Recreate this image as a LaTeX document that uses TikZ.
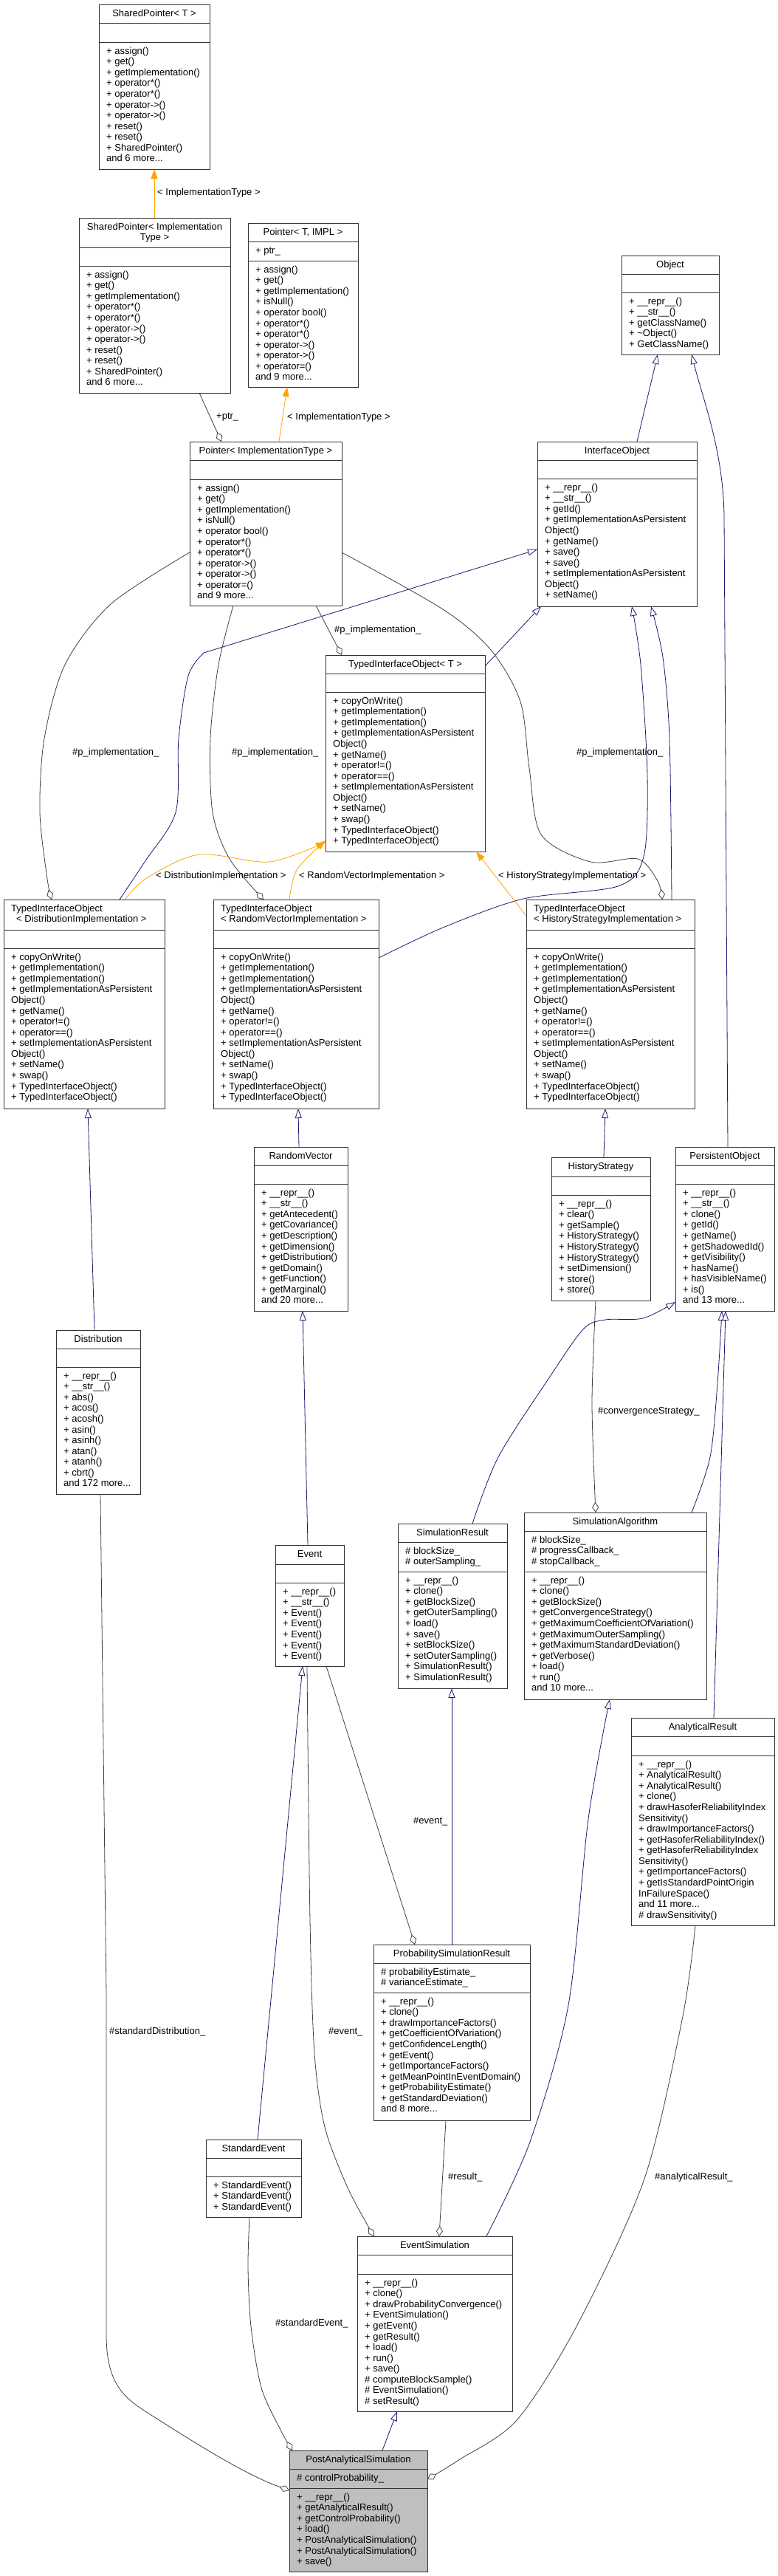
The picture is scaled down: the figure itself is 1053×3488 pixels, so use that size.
\documentclass[tikz,border=0pt]{standalone}
\usepackage{fontspec}
\setmainfont{Liberation Sans}
\usetikzlibrary{arrows.meta}
\definecolor{inhblue}{HTML}{191970}
\definecolor{tmplorange}{HTML}{FFA500}
\definecolor{usegrey}{HTML}{404040}
\definecolor{rootfill}{HTML}{BFBFBF}
\definecolor{boxline}{HTML}{333333}
\tikzset{
 box/.style={draw=boxline, line width=1pt, fill=white, inner sep=0pt, outer sep=0pt, rectangle},
 sepline/.style={draw=boxline, line width=1pt},
 txt/.style={anchor=north west, align=left, inner sep=0pt, font=\fontsize{13}{14.57}\selectfont},
 ttlc/.style={anchor=north, align=center, inner sep=0pt, font=\fontsize{13}{14.57}\selectfont, xshift={(#1)*0.5pt}},
 ttll/.style={anchor=north west, align=left, inner sep=0pt, font=\fontsize{13}{14.57}\selectfont, xshift=10pt},
 inh/.style={draw=inhblue, line width=0.8pt, -{Triangle[length=13pt,width=9pt,fill=white]}},
 tmpl/.style={draw=tmplorange, line width=0.8pt, -{Triangle[length=13pt,width=9pt]}},
 use/.style={draw=usegrey, line width=0.8pt, -{Diamond[length=14pt,width=9pt,fill=white]}},
 lbl/.style={anchor=west, inner sep=0pt, font=\fontsize{13}{14.57}\selectfont},
}
% #1 name, #2 xl, #3 xr, #4 yt, #5 yh, #6 ya, #7 yb, #8 c/l, #9 title ; then {attrs}{methods}
\newcommand\cls[9]{%
  \node[box, minimum width={(#3-#2)*1pt}, minimum height={(#7-#4)*1pt}] (#1) at ({(#2+#3)/2},{(#4+#7)/2}) {};
  \draw[sepline] (#2,#5) -- (#3,#5) (#2,#6) -- (#3,#6);
  \node[ttl#8={#3-#2}] (#1-t) at (#2,{#4+6}) {\rule{0pt}{10pt}#9};
  \def\cname{#1}\def\cxl{#2}\def\cyh{#5}\def\cya{#6}%
  \clsmore}
\newcommand\clsmore[2]{%
  \node[txt] (\cname-a) at ({\cxl+10},{\cyh+6}) {\rule{0pt}{10pt}#1};
  \node[txt] (\cname-m) at ({\cxl+10},{\cya+6}) {\rule{0pt}{10pt}#2};
}
\newcommand\spm{+ assign()\\+ get()\\+ getImplementation()\\+ operator*()\\+ operator*()\\+ operator->()\\+ operator->()\\+ reset()\\+ reset()\\+ SharedPointer()\\and 6 more...}
\newcommand\ptm{+ assign()\\+ get()\\+ getImplementation()\\+ isNull()\\+ operator bool()\\+ operator*()\\+ operator*()\\+ operator->()\\+ operator->()\\+ operator=()\\and 9 more...}
\newcommand\tiom{+ copyOnWrite()\\+ getImplementation()\\+ getImplementation()\\+ getImplementationAsPersistent\\Object()\\+ getName()\\+ operator!=()\\+ operator==()\\+ setImplementationAsPersistent\\Object()\\+ setName()\\+ swap()\\+ TypedInterfaceObject()\\+ TypedInterfaceObject()}
\begin{document}
\begin{tikzpicture}[x=1pt,y=-1pt]
\fill[white] (0,0) rectangle (1053,3488);
\useasboundingbox (0,0) rectangle (1053,3488);

% ---------- classes ----------
\cls{sp}{134}{284}{6}{31}{57}{229}{c}{SharedPointer< T >}{}{\spm}
\cls{spi}{107}{312}{295}{335}{360}{532}{c}{SharedPointer< Implementation\\Type >}{}{\spm}
\cls{pt}{336}{485}{302}{327}{353}{524}{c}{Pointer< T, IMPL >}{+ ptr\_}{\ptm}
\cls{pti}{257}{463}{598}{623}{649}{820}{c}{Pointer< ImplementationType >}{}{\ptm}
\cls{obj}{842}{974}{346}{371}{396}{480}{c}{Object}{}{+ \_\_repr\_\_()\\+ \_\_str\_\_()\\+ getClassName()\\+ \textasciitilde Object()\\+ GetClassName()}
\cls{io}{728}{944}{598}{623}{648}{821}{c}{InterfaceObject}{}{+ \_\_repr\_\_()\\+ \_\_str\_\_()\\+ getId()\\+ getImplementationAsPersistent\\Object()\\+ getName()\\+ save()\\+ save()\\+ setImplementationAsPersistent\\Object()\\+ setName()}
\cls{tioT}{441}{657}{887}{912}{937}{1153}{c}{TypedInterfaceObject< T >}{}{\tiom}
\cls{tioD}{5}{223}{1218}{1259}{1284}{1501}{l}{TypedInterfaceObject\\\hspace*{7pt}< DistributionImplementation >}{}{\tiom}
\cls{tioR}{289}{513}{1218}{1259}{1284}{1501}{l}{TypedInterfaceObject\\< RandomVectorImplementation >}{}{\tiom}
\cls{tioH}{713}{941}{1218}{1259}{1284}{1501}{l}{TypedInterfaceObject\\< HistoryStrategyImplementation >}{}{\tiom}
\cls{rv}{344}{471}{1553}{1578}{1603}{1775}{c}{RandomVector}{}{+ \_\_repr\_\_()\\+ \_\_str\_\_()\\+ getAntecedent()\\+ getCovariance()\\+ getDescription()\\+ getDimension()\\+ getDistribution()\\+ getDomain()\\+ getFunction()\\+ getMarginal()\\and 20 more...}
\cls{hs}{747}{881}{1567}{1593}{1618}{1761}{c}{HistoryStrategy}{}{+ \_\_repr\_\_()\\+ clear()\\+ getSample()\\+ HistoryStrategy()\\+ HistoryStrategy()\\+ HistoryStrategy()\\+ setDimension()\\+ store()\\+ store()}
\cls{po}{915}{1049}{1553}{1578}{1603}{1775}{c}{PersistentObject}{}{+ \_\_repr\_\_()\\+ \_\_str\_\_()\\+ clone()\\+ getId()\\+ getName()\\+ getShadowedId()\\+ getVisibility()\\+ hasName()\\+ hasVisibleName()\\+ is()\\and 13 more...}
\cls{dist}{76}{190}{1801}{1826}{1851}{2023}{c}{Distribution}{}{+ \_\_repr\_\_()\\+ \_\_str\_\_()\\+ abs()\\+ acos()\\+ acosh()\\+ asin()\\+ asinh()\\+ atan()\\+ atanh()\\+ cbrt()\\and 172 more...}
\cls{ev}{373}{466}{2092}{2118}{2143}{2256}{c}{Event}{}{+ \_\_repr\_\_()\\+ \_\_str\_\_()\\+ Event()\\+ Event()\\+ Event()\\+ Event()\\+ Event()}
\cls{sr}{539}{687}{2063}{2088}{2128}{2286}{c}{SimulationResult}{\# blockSize\_\\\# outerSampling\_}{+ \_\_repr\_\_()\\+ clone()\\+ getBlockSize()\\+ getOuterSampling()\\+ load()\\+ save()\\+ setBlockSize()\\+ setOuterSampling()\\+ SimulationResult()\\+ SimulationResult()}
\cls{sa}{710}{957}{2048}{2073}{2128}{2301}{c}{SimulationAlgorithm}{\# blockSize\_\\\# progressCallback\_\\\# stopCallback\_}{+ \_\_repr\_\_()\\+ clone()\\+ getBlockSize()\\+ getConvergenceStrategy()\\+ getMaximumCoefficientOfVariation()\\+ getMaximumOuterSampling()\\+ getMaximumStandardDeviation()\\+ getVerbose()\\+ load()\\+ run()\\and 10 more...}
\cls{ar}{855}{1049}{2326}{2351}{2377}{2607}{c}{AnalyticalResult}{}{+ \_\_repr\_\_()\\+ AnalyticalResult()\\+ AnalyticalResult()\\+ clone()\\+ drawHasoferReliabilityIndex\\Sensitivity()\\+ drawImportanceFactors()\\+ getHasoferReliabilityIndex()\\+ getHasoferReliabilityIndex\\Sensitivity()\\+ getImportanceFactors()\\+ getIsStandardPointOrigin\\InFailureSpace()\\and 11 more...\\\# drawSensitivity()}
\cls{psr}{506}{718}{2633}{2658}{2698}{2871}{c}{ProbabilitySimulationResult}{\# probabilityEstimate\_\\\# varianceEstimate\_}{+ \_\_repr\_\_()\\+ clone()\\+ drawImportanceFactors()\\+ getCoefficientOfVariation()\\+ getConfidenceLength()\\+ getEvent()\\+ getImportanceFactors()\\+ getMeanPointInEventDomain()\\+ getProbabilityEstimate()\\+ getStandardDeviation()\\and 8 more...}
\cls{se}{279}{408}{2897}{2922}{2947}{3002}{c}{StandardEvent}{}{+ StandardEvent()\\+ StandardEvent()\\+ StandardEvent()}
\cls{es}{484}{694}{3028}{3053}{3079}{3265}{c}{EventSimulation}{}{+ \_\_repr\_\_()\\+ clone()\\+ drawProbabilityConvergence()\\+ EventSimulation()\\+ getEvent()\\+ getResult()\\+ load()\\+ run()\\+ save()\\\# computeBlockSample()\\\# EventSimulation()\\\# setResult()}
\begin{scope}[box/.append style={fill=rootfill}]
\cls{pas}{392}{579}{3318}{3343}{3369}{3482}{c}{PostAnalyticalSimulation}{\# controlProbability\_}{+ \_\_repr\_\_()\\+ getAnalyticalResult()\\+ getControlProbability()\\+ load()\\+ PostAnalyticalSimulation()\\+ PostAnalyticalSimulation()\\+ save()}
\end{scope}

% ---------- connectors ----------
\draw[tmpl] (209,0 |- spi.north) -- (209,0 |- sp.south);
\draw[tmpl] (378,0 |- pti.north) -- (389,0 |- pt.south);
\draw[use] (270,0 |- spi.south) -- (300,0 |- pti.north);
\draw[inh] (863,0 |- io.north) -- (891,0 |- obj.south);
\draw[inh] (986,0 |- po.north) -- (981,700) .. controls (980,610) and (952,540) .. (937,0 |- obj.south);
\draw[inh] (tioT.east |- 0,902) -- (733,0 |- io.south);
\draw[inh] plot[smooth] coordinates {(162,0 |- tioD.north) (196,1167) (238,1100) (242,1000) (255,915) (276,884)} -- (io.west |- 0,744);
\draw[inh] plot[smooth] coordinates {(tioR.east |- 0,1297) (600,1256) (709,1217) (837,1200) (872,1160) (877,1050) (868,900) (856,0 |- io.south)};
\draw[inh] plot[smooth] coordinates {(910,0 |- tioH.north) (907,1000) (898,890) (882,0 |- io.south)};
\draw[tmpl] plot[smooth] coordinates {(169,0 |- tioD.north) (200,1188) (270,1157) (365,1167) (tioT.west |- 0,1140)};
\draw[tmpl] plot[smooth] coordinates {(392,0 |- tioR.north) (402,1178) (tioT.west |- 0,1138)};
\draw[tmpl] (tioH.west |- 0,1240) -- (645,0 |- tioT.south);
\draw[use] plot[smooth] coordinates {(pti.west |- 0,748) (150,818) (88,900) (60,1000) (54,1100) (64,1190) (70,0 |- tioD.north)};
\draw[use] plot[smooth] coordinates {(316,0 |- pti.south) (296,900) (285,1000) (288,1100) (311,1163) (357,0 |- tioR.north)};
\draw[use] (428,0 |- pti.south) -- (463,0 |- tioT.north);
\draw[use] plot[smooth] coordinates {(pti.east |- 0,748) (600,825) (665,880) (705,950) (717,1040) (733,1130) (800,1167) (864,1163) (891,1193) (897,0 |- tioH.north)};
\draw[inh] (128,0 |- dist.north) -- (119,0 |- tioD.south);
\draw[inh] (405,0 |- rv.north) -- (404,0 |- tioR.south);
\draw[inh] (818,0 |- hs.north) -- (820,0 |- tioH.south);
\draw[inh] (417,0 |- ev.north) -- (410,0 |- rv.south);
\draw[inh] plot[smooth] coordinates {(640,0 |- sr.north) (675,1973) (743,1867) (790,1800) (820,1787) (871,1785) (po.west |- 0,1763)};
\draw[inh] plot[smooth] coordinates {(937,0 |- sa.north) (962,1973) (972,1873) (978,0 |- po.south)};
\draw[inh] (967,0 |- ar.north) -- (983,0 |- po.south);
\draw[use] plot[smooth] coordinates {(807,0 |- hs.south) (802,1900) (807,0 |- sa.north)};
\draw[use] (136,0 |- dist.south) -- (144,2700) -- (144,3160) .. controls (144,3225) and (165,3245) .. (200,3267) .. controls (260,3305) and (330,3350) .. (pas.west |- 0,3372);
\draw[inh] (349,0 |- se.north) -- (410,0 |- ev.south);
\draw[use] plot[smooth] coordinates {(416,0 |- ev.south) (420,2600) (426,2780) (440,2880) (470,2960) (498,3013) (507,0 |- es.north)};
\draw[use] (442,0 |- ev.south) -- (562,0 |- psr.north);
\draw[inh] (612,0 |- psr.north) -- (612,0 |- sr.south);
\draw[inh] plot[smooth] coordinates {(659,0 |- es.north) (718,2900) (770,2715) (797,2463) (826,0 |- sa.south)};
\draw[use] (604,0 |- psr.south) -- (595,0 |- es.north);
\draw[use] plot[smooth] coordinates {(942,0 |- ar.south) (925,2730) (873,2950) (781,3150) (700,3277) (623,3330) (pas.east |- 0,3357)};
\draw[use] plot[smooth] coordinates {(338,0 |- se.south) (336,3070) (340,3150) (354,3233) (380,3290) (396,0 |- pas.north)};
\draw[inh] (518,0 |- pas.north) -- (538,0 |- es.south);

% ---------- labels ----------
\node[lbl] (l1) at (213,261) {< ImplementationType >};
\node[lbl] (l2) at (389,565) {< ImplementationType >};
\node[lbl] (l3) at (293,565) {+ptr\_};
\node[lbl] (l4) at (98,1019) {\#p\_implementation\_};
\node[lbl] (l5) at (314,1019) {\#p\_implementation\_};
\node[lbl] (l6) at (453,853) {\#p\_implementation\_};
\node[lbl] (l7) at (781,1019) {\#p\_implementation\_};
\node[lbl] (l8) at (211,1186) {< DistributionImplementation >};
\node[lbl] (l9) at (405,1186) {< RandomVectorImplementation >};
\node[lbl] (l10) at (675,1186) {< HistoryStrategyImplementation >};
\node[lbl] (l11) at (810,1911) {\#convergenceStrategy\_};
\node[lbl] (l12) at (148,2751) {\#standardDistribution\_};
\node[lbl] (l13) at (445,2751) {\#event\_};
\node[lbl] (l14) at (560,2466) {\#event\_};
\node[lbl] (l15) at (607,2948) {\#result\_};
\node[lbl] (l16) at (887,2948) {\#analyticalResult\_};
\node[lbl] (l17) at (373,3146) {\#standardEvent\_};
\end{tikzpicture}
\end{document}
